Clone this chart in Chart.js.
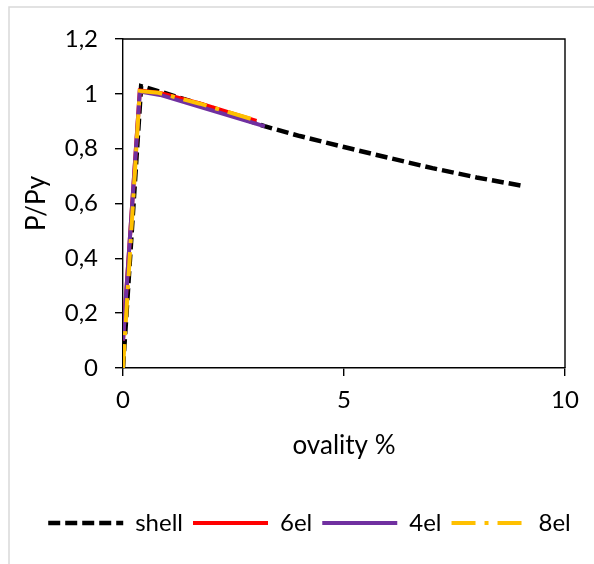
<!DOCTYPE html>
<html>
<head>
<meta charset="utf-8">
<script src="https://cdn.jsdelivr.net/npm/chart.js@4/dist/chart.umd.min.js"></script>
<style>
  html, body { margin: 0; padding: 0; background: #ffffff; }
  #wrap { width: 594px; height: 564px; position: relative; }
</style>
</head>
<body>
<div id="wrap"><canvas id="c" width="594" height="564"></canvas></div>
<script>
// ---- data ----
const seriesNames = ['shell', '6el', '4el', '8el'];

const shellX = [0, 0.41, 0.9, 2.0, 3.2, 4.0, 5.0, 6.0, 7.0, 8.0, 9.05];
const shellY = [0, 1.028, 1.005, 0.95, 0.882, 0.846, 0.806, 0.767, 0.729, 0.695, 0.664];

const el6X = [0, 0.38, 0.84, 1.74, 3.02];
const el6Y = [0.10, 1.012, 1.003, 0.965, 0.901];

const el4X = [0, 0.38, 0.84, 1.74, 3.21];
const el4Y = [0.10, 1.008, 0.996, 0.953, 0.881];

const el8X = [0, 0.38, 0.80, 1.74, 3.0];
const el8Y = [0, 1.01, 1.004, 0.964, 0.904];

const yTickLabels = ['0', '0,2', '0,4', '0,6', '0,8', '1', '1,2'];
const xTickLabels = ['0', '5', '10'];

const xTitle = 'ovality %';
const yTitle = 'P/Py';

// ---- helpers ----
function pts(xs, ys) { return xs.map((x, i) => ({ x: x, y: ys[i] })); }

const FONT = 'Lato, "Open Sans", "Liberation Sans", sans-serif';

const frame = {
  id: 'frame',
  afterLayout(chart) {
    if (chart.legend) { chart.legend.left += 22; chart.legend.right += 22; }
  },
  beforeDraw(chart) {
    const ctx = chart.ctx;
    ctx.save();
    ctx.fillStyle = '#ffffff';
    ctx.fillRect(0, 0, chart.width, chart.height);
    ctx.strokeStyle = '#d9d9d9';
    ctx.lineWidth = 1.5;
    ctx.beginPath();
    ctx.moveTo(9, chart.height + 5);
    ctx.lineTo(9, 7);
    ctx.lineTo(chart.width + 5, 7);
    ctx.stroke();
    ctx.restore();
  },
  afterDraw(chart) {
    const a = chart.chartArea;
    const ctx = chart.ctx;
    ctx.save();
    ctx.strokeStyle = '#000000';
    ctx.lineWidth = 1.4;
    ctx.beginPath();
    ctx.moveTo(a.left, a.top);
    ctx.lineTo(a.right, a.top);
    ctx.lineTo(a.right, a.bottom);
    ctx.stroke();
    ctx.restore();
  }
};

new Chart(document.getElementById('c'), {
  type: 'scatter',
  data: {
    datasets: [
      {
        label: seriesNames[0], data: pts(shellX, shellY), showLine: true,
        borderColor: '#000000', backgroundColor: '#000000', borderWidth: 4.5,
        borderDash: [12, 5], borderCapStyle: 'butt', pointRadius: 0, tension: 0, order: 4
      },
      {
        label: seriesNames[1], data: pts(el6X, el6Y), showLine: true,
        borderColor: '#ff0000', backgroundColor: '#ff0000', borderWidth: 4,
        pointRadius: 0, tension: 0, order: 3
      },
      {
        label: seriesNames[2], data: pts(el4X, el4Y), showLine: true,
        borderColor: '#7030a0', backgroundColor: '#7030a0', borderWidth: 4,
        pointRadius: 0, tension: 0, order: 2
      },
      {
        label: seriesNames[3], data: pts(el8X, el8Y), showLine: true,
        borderColor: '#ffc000', backgroundColor: '#ffc000', borderWidth: 4,
        borderDash: [24, 9, 4, 9], borderCapStyle: 'butt', pointRadius: 0, tension: 0, order: 1
      }
    ]
  },
  options: {
    responsive: false,
    animation: false,
    devicePixelRatio: 1,
    layout: { padding: { left: 10, right: 29, top: 39, bottom: 19 } },
    plugins: {
      tooltip: { enabled: false },
      legend: {
        position: 'bottom',
        labels: {
          usePointStyle: true,
          pointStyle: 'line',
          pointStyleWidth: 75,
          padding: 10,
          color: '#000000',
          font: { family: FONT, size: 24 },
          generateLabels(chart) {
            const items = Chart.defaults.plugins.legend.labels.generateLabels(chart);
            items.forEach(it => {
              const ds = chart.data.datasets[it.datasetIndex];
              it.lineDash = ds.borderDash || [];
              it.lineCap = ds.borderCapStyle || 'butt';
              it.lineWidth = ds.borderWidth;
              it.strokeStyle = ds.borderColor;
              it.fillStyle = ds.borderColor;
              it.pointStyle = 'line';
            });
            return items.sort((a, b) => a.datasetIndex - b.datasetIndex);
          }
        }
      }
    },
    scales: {
      x: {
        type: 'linear',
        min: 0, max: 10,
        ticks: {
          stepSize: 5, padding: 10, color: '#000000',
          font: { family: FONT, size: 24 },
          callback: (v, i) => xTickLabels[i]
        },
        grid: { display: true, drawOnChartArea: false, drawTicks: true, tickLength: 8, color: '#000000', lineWidth: 1.4 },
        border: { display: true, color: '#000000', width: 1.4 },
        title: {
          display: true, text: xTitle, color: '#000000',
          font: { family: FONT, size: 26 },
          padding: { top: 0, bottom: 40 }
        },
        afterFit: (s) => { s.height = 133; s.paddingLeft = 0; s.paddingRight = 0; }
      },
      y: {
        type: 'linear',
        min: 0, max: 1.2,
        ticks: {
          stepSize: 0.2, padding: 17, color: '#000000',
          font: { family: FONT, size: 24 },
          callback: (v, i) => yTickLabels[i]
        },
        grid: { display: true, drawOnChartArea: false, drawTicks: true, tickLength: 8, color: '#000000', lineWidth: 1.4 },
        border: { display: true, color: '#000000', width: 1.4 },
        title: {
          display: true, text: yTitle, color: '#000000',
          font: { family: FONT, size: 26 },
          padding: { top: 11, bottom: 0 }
        },
        afterFit: (s) => { s.width = 113; s.paddingTop = 0; s.paddingBottom = 0; }
      }
    }
  },
  plugins: [frame]
});
</script>
</body>
</html>
